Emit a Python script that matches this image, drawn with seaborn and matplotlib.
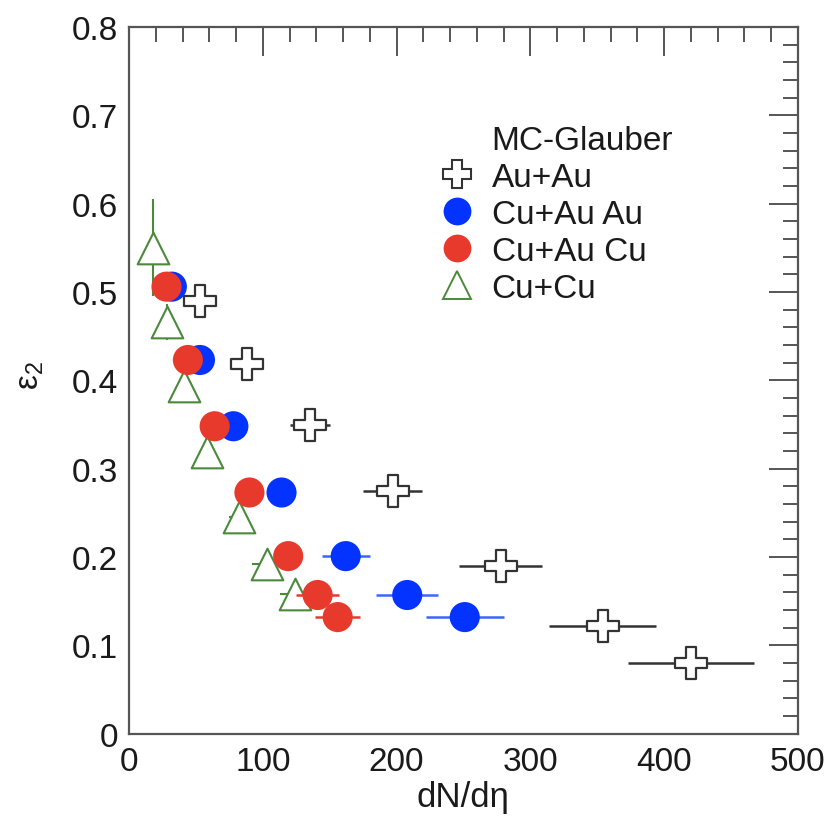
import matplotlib
matplotlib.use("Agg")
import matplotlib.pyplot as plt
from matplotlib.lines import Line2D
from matplotlib.ticker import MultipleLocator
import seaborn as sns
import pandas as pd

sns.set_theme(style="white")
plt.rcParams["font.family"] = ["Liberation Sans", "DejaVu Sans"]
plt.rcParams["mathtext.fontset"] = "custom"
plt.rcParams["mathtext.rm"] = "Liberation Sans"
plt.rcParams["mathtext.it"] = "Liberation Sans"

# MC-Glauber eccentricity vs multiplicity
auau_x = [53, 88, 135, 197, 278, 354, 420]
auau_y = [0.490, 0.419, 0.349, 0.275, 0.190, 0.122, 0.080]
auau_xerr = [6, 10, 15, 22, 31, 40, 47]

cuau_au_x = [32, 53, 78, 114, 162, 208, 251]
cuau_au_y = [0.506, 0.423, 0.348, 0.273, 0.201, 0.157, 0.132]
cuau_au_xerr = [3, 5, 7, 10, 18, 23, 29]

cuau_cu_x = [28, 44, 64, 90, 119, 141, 156]
cuau_cu_y = [0.506, 0.423, 0.348, 0.273, 0.201, 0.157, 0.132]
cuau_cu_xerr = [2, 3, 5, 6, 8, 16, 17]

cucu_x = [18, 28, 41, 58, 82, 103, 124]
cucu_y = [0.550, 0.466, 0.394, 0.319, 0.245, 0.192, 0.158]
cucu_xerr = [2, 3, 4, 5, 7, 11, 11]
cucu_yerr = [0.055, 0.02, 0.01, 0.006, 0.005, 0.004, 0.003]

legend_title = "MC-Glauber"
labels = ["Au+Au", "Cu+Au Au", "Cu+Au Cu", "Cu+Cu"]

c_auau = "#333333"
c_blue = "#0433ff"
c_blue_err = "#3a66ff"
c_red = "#e8392d"
c_green = "#4a8a3a"
c_text = "#1a1a1a"

fig = plt.figure(figsize=(8.38, 8.2), dpi=100)
ax = fig.add_axes([0.154, 0.104, 0.798, 0.862])

def series(x, y):
    return pd.DataFrame({"x": x, "y": y})

# Au+Au: open crosses
ax.errorbar(auau_x, auau_y, xerr=auau_xerr, fmt="none", ecolor=c_auau,
            elinewidth=1.8, capsize=0, zorder=2)
sns.scatterplot(data=series(auau_x, auau_y), x="x", y="y", ax=ax, marker="P",
                s=500, facecolor="white", edgecolor=c_auau, linewidth=1.6,
                zorder=3)

# Cu+Cu: open triangles
ax.errorbar(cucu_x, cucu_y, xerr=cucu_xerr, yerr=cucu_yerr, fmt="none",
            ecolor=c_green, elinewidth=1.5, capsize=0, zorder=2)
sns.scatterplot(data=series(cucu_x, cucu_y), x="x", y="y", ax=ax, marker="^",
                s=520, facecolor="white", edgecolor=c_green, linewidth=1.5,
                zorder=3)

# Cu+Au, Au side
ax.errorbar(cuau_au_x, cuau_au_y, xerr=cuau_au_xerr, fmt="none",
            ecolor=c_blue_err, elinewidth=1.8, capsize=0, zorder=4)
sns.scatterplot(data=series(cuau_au_x, cuau_au_y), x="x", y="y", ax=ax,
                marker="o", s=470, color=c_blue, edgecolor="none", zorder=5)

# Cu+Au, Cu side
ax.errorbar(cuau_cu_x, cuau_cu_y, xerr=cuau_cu_xerr, fmt="none",
            ecolor=c_red, elinewidth=1.8, capsize=0, zorder=6)
sns.scatterplot(data=series(cuau_cu_x, cuau_cu_y), x="x", y="y", ax=ax,
                marker="o", s=470, color=c_red, edgecolor="none", zorder=7)

ax.set_xlim(0, 500)
ax.set_ylim(0, 0.8)
ax.xaxis.set_major_locator(MultipleLocator(100))
ax.xaxis.set_minor_locator(MultipleLocator(20))
ax.yaxis.set_minor_locator(MultipleLocator(0.02))
ax.set_yticks([0, 0.1, 0.2, 0.3, 0.4, 0.5, 0.6, 0.7, 0.8])
ax.set_yticklabels(["0", "0.1", "0.2", "0.3", "0.4", "0.5", "0.6", "0.7", "0.8"])

frame = "#555555"
for sp in ax.spines.values():
    sp.set_visible(True)
    sp.set_color(frame)
    sp.set_linewidth(1.6)
ax.tick_params(which="both", direction="in", top=True, right=True,
               color=frame, width=1.4, labelsize=24, labelcolor=c_text)
ax.tick_params(which="major", length=21)
ax.tick_params(which="minor", length=11)
ax.tick_params(axis="y", which="major", pad=8)
ax.tick_params(axis="x", which="major", pad=9)

ax.set_xlabel("dN/dη", fontsize=25, color=c_text)
ax.xaxis.set_label_coords(0.5, -0.089)
ax.xaxis.label.set_verticalalignment("center")
ax.set_ylabel(r"ε$_2$", fontsize=24, color=c_text, rotation=90)
ax.yaxis.set_label_coords(-0.147, 0.508)
ax.yaxis.label.set_verticalalignment("center")

handles = [
    Line2D([], [], linestyle="none", marker=None),
    Line2D([], [], linestyle="none", marker="P", markersize=20,
           markerfacecolor="white", markeredgecolor=c_auau, markeredgewidth=1.5),
    Line2D([], [], linestyle="none", marker="o", markersize=20,
           markerfacecolor=c_blue, markeredgecolor="none"),
    Line2D([], [], linestyle="none", marker="o", markersize=20,
           markerfacecolor=c_red, markeredgecolor="none"),
    Line2D([], [], linestyle="none", marker="^", markersize=20,
           markerfacecolor="none", markeredgecolor=c_green, markeredgewidth=1.4),
]
leg = ax.legend(handles, [legend_title] + labels, loc="upper left",
                bbox_to_anchor=(0.445, 0.88), frameon=False, fontsize=24,
                handlelength=1.0, handletextpad=0.55, labelspacing=0.18,
                borderaxespad=0)
for t in leg.get_texts():
    t.set_color(c_text)

fig.savefig("out.png", dpi=100)
